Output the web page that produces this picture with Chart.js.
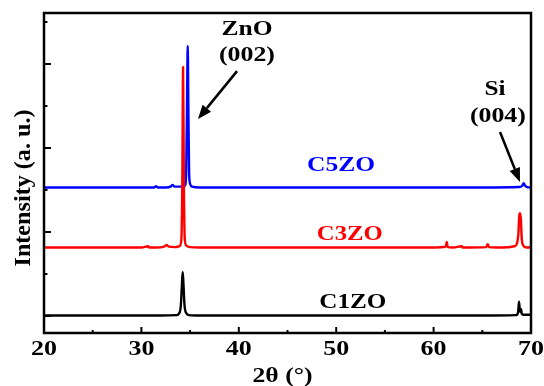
<!DOCTYPE html>
<html lang="en">
<head>
    <meta charset="UTF-8">
    <title>XRD patterns C1ZO / C3ZO / C5ZO</title>
    <script src="https://cdn.jsdelivr.net/npm/chart.js"></script>
    <style>
        body { margin: 0; background: #fff; }
        #wrap { width: 544px; height: 386px; }
    </style>
</head>
<body>
    <div id="wrap"><canvas id="xrd" width="544" height="386"></canvas></div>

    <script>
        // 2theta (deg) and offset intensity (a.u.)
        const c1zoTheta = [20, 25, 30, 32, 33.6, 33.9, 34.05, 34.15, 34.24, 34.33, 34.43, 34.6, 34.9, 36, 40, 45, 50, 55, 60, 65, 68.5, 68.68, 68.77, 68.86, 68.92, 68.98, 69.06, 69.2, 69.6, 70];
        const c1zoInt   = [0.01, 0.01, 0.01, 0.01, 0.02, 0.07, 0.25, 0.7, 1.05, 0.7, 0.25, 0.07, 0.02, 0.01, 0.01, 0.01, 0.01, 0.01, 0.01, 0.01, 0.02, 0.1, 0.34, 0.12, 0.1, 0.16, 0.05, 0.03, 0.03, 0.03];

        const c3zoTheta = [20, 25, 30, 30.7, 30.8, 31.5, 32.4, 32.6, 32.8, 33.5, 33.9, 34.1, 34.2, 34.28, 34.36, 34.45, 34.6, 35, 36, 40, 45, 50, 55, 60, 61.25, 61.35, 61.45, 62, 62.9, 63, 65.4, 65.55, 65.7, 67, 68.3, 68.55, 68.7, 68.8, 68.88, 68.96, 69.05, 69.2, 69.4, 69.7, 70];
        const c3zoInt   = [1.63, 1.63, 1.63, 1.66, 1.63, 1.63, 1.66, 1.69, 1.65, 1.64, 1.66, 1.8, 3.2, 5.93, 3.2, 1.85, 1.68, 1.64, 1.63, 1.63, 1.63, 1.63, 1.63, 1.63, 1.65, 1.76, 1.64, 1.63, 1.66, 1.63, 1.64, 1.71, 1.64, 1.63, 1.66, 1.72, 1.95, 2.4, 2.45, 2.3, 1.85, 1.68, 1.64, 1.63, 1.65];

        const c5zoTheta = [20, 25, 30, 31.3, 31.5, 31.7, 32.5, 33.0, 33.2, 33.4, 34.0, 34.45, 34.6, 34.7, 34.76, 34.82, 34.9, 35.0, 35.2, 36, 40, 45, 50, 55, 60, 65, 68.8, 69.1, 69.25, 69.4, 69.6, 70];
        const c5zoInt   = [3.06, 3.06, 3.06, 3.06, 3.09, 3.06, 3.06, 3.08, 3.12, 3.08, 3.08, 3.1, 3.4, 5.5, 6.43, 5.0, 3.4, 3.15, 3.08, 3.06, 3.06, 3.06, 3.06, 3.06, 3.06, 3.06, 3.07, 3.1, 3.16, 3.1, 3.07, 3.06];

        const xTickLabels = ['20', '30', '40', '50', '60', '70'];
        const xTickValues = [20, 30, 40, 50, 60, 70];

        const toPoints = (xs, ys) => xs.map((x, i) => ({ x: x, y: ys[i] }));

        const serif = '"Liberation Serif", "Times New Roman", serif';

        // text squeezed/stretched to a given width, like the original figure
        function drawText(ctx, txt, x, y, size, width, color, rot) {
            ctx.save();
            ctx.font = 'bold ' + size + 'px ' + serif;
            const w = ctx.measureText(txt).width;
            ctx.translate(x, y);
            if (rot) ctx.rotate(rot);
            ctx.scale(width / w, 1);
            ctx.fillStyle = color;
            ctx.textAlign = 'center';
            ctx.textBaseline = 'middle';
            ctx.fillText(txt, 0, 0);
            ctx.restore();
        }

        function arrow(ctx, x1, y1, x2, y2) {
            const ang = Math.atan2(y2 - y1, x2 - x1);
            const head = 14, half = 5.5;
            const bx = x2 - head * Math.cos(ang), by = y2 - head * Math.sin(ang);
            ctx.save();
            ctx.strokeStyle = '#000';
            ctx.fillStyle = '#000';
            ctx.lineWidth = 2.5;
            ctx.beginPath();
            ctx.moveTo(x1, y1);
            ctx.lineTo(bx, by);
            ctx.stroke();
            ctx.beginPath();
            ctx.moveTo(x2, y2);
            ctx.lineTo(bx + half * Math.sin(ang), by - half * Math.cos(ang));
            ctx.lineTo(bx - half * Math.sin(ang), by + half * Math.cos(ang));
            ctx.closePath();
            ctx.fill();
            ctx.restore();
        }

        const decor = {
            id: 'decor',
            afterDraw(chart) {
                const ctx = chart.ctx;
                const a = chart.chartArea;
                const xs = chart.scales.x, ys = chart.scales.y;
                const px = v => xs.getPixelForValue(v);
                const py = v => ys.getPixelForValue(v);

                ctx.save();
                ctx.strokeStyle = '#000';
                ctx.lineWidth = 2;
                // inward ticks on bottom axis
                for (let v = 25; v < 70; v += 5) {
                    const len = v % 10 === 0 ? 6 : 3;
                    ctx.beginPath();
                    ctx.moveTo(px(v), a.bottom);
                    ctx.lineTo(px(v), a.bottom - len);
                    ctx.stroke();
                }
                // inward ticks on left axis
                for (let v = 0; v <= 7; v++) {
                    const len = v % 2 === 0 ? 7 : 3.5;
                    ctx.beginPath();
                    ctx.moveTo(a.left, py(v));
                    ctx.lineTo(a.left + len, py(v));
                    ctx.stroke();
                }
                // frame
                ctx.lineWidth = 2.5;
                ctx.strokeRect(a.left, a.top, a.right - a.left, a.bottom - a.top);
                ctx.restore();

                // tick labels
                xTickValues.forEach((v, i) => {
                    drawText(ctx, xTickLabels[i], px(v), a.bottom + 17, 20, 26, '#000');
                });

                // axis titles
                drawText(ctx, '2θ (°)', (a.left + a.right) / 2 - 5, 377, 21, 60, '#000');
                drawText(ctx, 'Intensity (a. u.)', 24, 188, 24, 157, '#000', -Math.PI / 2);

                // peak annotations
                drawText(ctx, 'ZnO', px(40.84), py(6.83), 21, 51, '#000');
                drawText(ctx, '(002)', px(40.84), py(6.21), 21, 56, '#000');
                arrow(ctx, px(39.82), py(5.83), px(35.81), py(4.69));

                drawText(ctx, 'Si', px(66.3), py(5.38), 21, 21, '#000');
                drawText(ctx, '(004)', px(66.6), py(4.74), 21, 56, '#000');
                arrow(ctx, px(66.82), py(4.38), px(68.87), py(3.19));

                // sample labels
                drawText(ctx, 'C5ZO', px(50.5), py(3.57), 21, 68, '#0000ff');
                drawText(ctx, 'C3ZO', px(51.4), py(1.95), 21, 66, '#ff0000');
                drawText(ctx, 'C1ZO', px(51.7), py(0.31), 21, 67, '#000');
            }
        };

        const ctx = document.getElementById('xrd').getContext('2d');

        new Chart(ctx, {
            type: 'line',
            data: {
                datasets: [
                    { label: 'C1ZO', data: toPoints(c1zoTheta, c1zoInt), borderColor: '#000000', order: 2 },
                    { label: 'C3ZO', data: toPoints(c3zoTheta, c3zoInt), borderColor: '#ff0000', order: 0 },
                    { label: 'C5ZO', data: toPoints(c5zoTheta, c5zoInt), borderColor: '#0000ff', order: 1 }
                ]
            },
            options: {
                responsive: false,
                animation: false,
                layout: { padding: { top: 13, right: 13, left: 0, bottom: 0 } },
                elements: {
                    point: { radius: 0 },
                    line: { borderWidth: 2.4, cubicInterpolationMode: 'monotone', borderJoinStyle: 'round' }
                },
                scales: {
                    x: {
                        type: 'linear', min: 20, max: 70,
                        ticks: { display: false },
                        grid: { display: false },
                        border: { display: false },
                        afterFit: s => { s.height = 53; }
                    },
                    y: {
                        min: -0.405, max: 7.214,
                        ticks: { display: false },
                        grid: { display: false },
                        border: { display: false },
                        afterFit: s => { s.width = 44; }
                    }
                },
                plugins: {
                    legend: { display: false },
                    tooltip: { enabled: false }
                }
            },
            plugins: [decor]
        });
    </script>
</body>
</html>
